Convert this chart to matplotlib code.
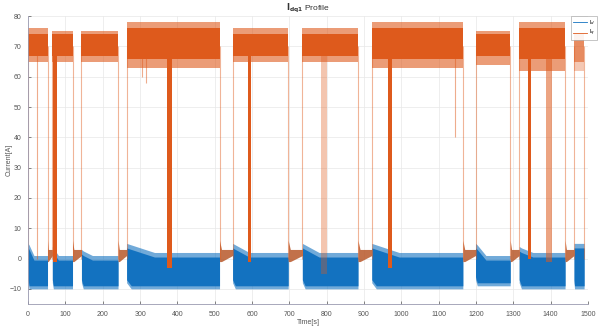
import matplotlib
matplotlib.use('Agg')
import matplotlib.pyplot as plt
import numpy as np

plt.rcParams['font.family'] = ['Liberation Sans', 'DejaVu Sans']

# Operating segments of the profile (time in s)
seg_start = [0, 65, 143, 264, 548, 735, 921, 1199, 1316, 1463]
seg_end = [52, 119, 241, 513, 697, 884, 1165, 1292, 1439, 1490]

# Iq envelope (A) in each segment: outer band and dense core
iq_lo = [65, 65, 65, 63, 65, 65, 63, 64, 62, 62]
iq_hi = [76, 75, 75, 78, 76, 76, 78, 75, 78, 74]
iq_core_lo = [67, 67, 67, 66, 67, 67, 66, 67, 66, 65]
iq_core_hi = [74, 74, 74, 76, 74, 74, 76, 74, 76, 72]

# Id envelope (A): peak at segment start, plateau afterwards, floor
id_peak = [5, 4, 3, 5, 5, 5, 5, 5, 4, 5]
id_top = [1, 1, 1, 2, 2, 2, 2, 1, 2, 5]
id_floor = [-10, -10, -10, -10, -10, -10, -10, -9, -10, -10]

# Wide transitions of Iq down to zero inside segments
band_t0 = [66, 373, 590, 786, 964, 1340, 1388]
band_t1 = [77, 386, 596, 800, 975, 1348, 1404]
band_low = [-1, -3, -1, -5, -3, 0, -1]
band_alpha = [1.0, 1.0, 1.0, 0.35, 1.0, 1.0, 0.55]

# Thin dips of Iq: time and lowest value
dip_t = [23, 305, 317, 1143]
dip_low = [0, 60, 58, 40]

blue = '#1372C0'
orange = '#DE5A1C'

fig = plt.figure(figsize=(5.98, 3.29), dpi=100)
ax = fig.add_axes([0.047, 0.076, 0.936, 0.875])

for i in range(len(seg_start)):
    s, e = seg_start[i], seg_end[i]
    d = e - s
    # Id (blue)
    tt = [s, s + 0.05 * d, s + 0.3 * d, e]
    top = [id_peak[i], id_peak[i] - 0.5, id_top[i], id_top[i]]
    if i == len(seg_start) - 1:
        top = [id_peak[i]] * 4
    ax.fill_between(tt, [id_floor[i] + 2] + [id_floor[i]] * 3, top,
                    color=blue, alpha=0.6, lw=0)
    ax.fill_between(tt, [id_floor[i] + 3] + [id_floor[i] + 1] * 3,
                    [t - 1.5 for t in top], color=blue, lw=0)
    # Iq (orange)
    a = 0.55 if i == len(seg_start) - 1 else 1.0
    ax.fill_between([s, e], iq_lo[i], iq_hi[i], color=orange, alpha=0.6 * a, lw=0)
    ax.fill_between([s, e], iq_core_lo[i], iq_core_hi[i], color=orange, alpha=a, lw=0)
    # switching edges
    ax.vlines([s, e], 0, 70, color=orange, alpha=0.45, lw=0.8)

# idle gaps between segments: Iq and Id near zero
for i in range(len(seg_start) - 1):
    g0, g1 = seg_end[i], seg_start[i + 1]
    gt = [g0, g0 + 0.15 * (g1 - g0), g1]
    ax.fill_between(gt, [-1, -1, 1], [6, 3, 3], color='#B8582A', lw=0, alpha=0.85)

for t0, t1, lo, al in zip(band_t0, band_t1, band_low, band_alpha):
    ax.fill_between([t0, t1], lo, 72, color=orange, alpha=al, lw=0)

ax.vlines(dip_t, dip_low, 70, color=orange, alpha=0.5, lw=0.8)

# legend proxies
ax.plot([], [], color=blue, lw=0.6, label='I$_d$')
ax.plot([], [], color=orange, lw=0.6, label='I$_q$')
leg = ax.legend(loc='upper right', bbox_to_anchor=(0.998, 1 - 16 / 329),
                bbox_transform=fig.transFigure, fontsize=4, frameon=True,
                fancybox=False, handlelength=2.6, borderpad=0.3, labelspacing=0.3,
                handletextpad=0.3, borderaxespad=0)
leg.get_frame().set_edgecolor('#999999')
leg.get_frame().set_linewidth(0.5)

ax.set_xlim(0, 1500)
ax.set_ylim(-15, 80)
ax.set_xticks(np.arange(0, 1501, 100))
ax.set_yticks(np.arange(-10, 81, 10))
ax.grid(True, color='#E8E8E8', lw=0.5)
ax.set_axisbelow(True)
ax.tick_params(direction='in', length=2, width=0.5, labelsize=5,
               colors='#555555', pad=5)
for side in ['top', 'right']:
    ax.spines[side].set_visible(False)
for side in ['left', 'bottom']:
    ax.spines[side].set_color('#9A9AB0')
    ax.spines[side].set_linewidth(0.6)

ax.set_title(r'$\mathbf{I_{dq1}}$ Profile', fontsize=6, color='#333333', pad=4)
ax.set_xlabel('Time[s]', fontsize=5, color='#555555', labelpad=1)
ax.set_ylabel('Current[A]', fontsize=5, color='#555555')
ax.yaxis.set_label_coords(-0.028, 0.5)

fig.savefig('out.png', dpi=100)
